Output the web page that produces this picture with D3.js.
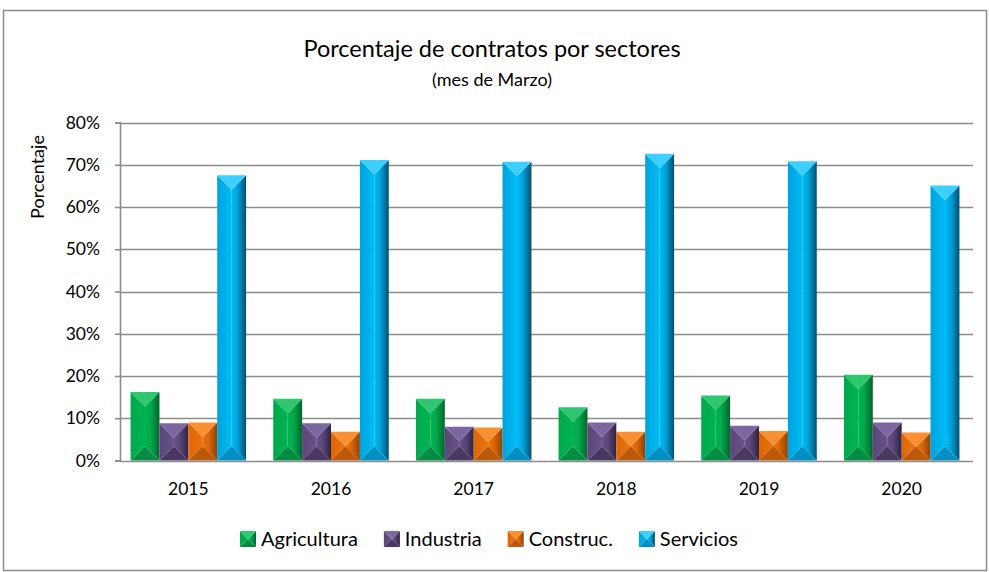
<!DOCTYPE html>
<html>
<head>
<meta charset="utf-8">
<title>Porcentaje de contratos por sectores</title>
<style>
  body { margin: 0; background: #ffffff; }
  text { font-family: Lato, "Open Sans", sans-serif; fill: #000; }
</style>
<script src="https://d3js.org/d3.v7.min.js"></script>
</head>
<body>
<div id="chart"></div>
<script>
// data (fractions)
var years = ["2015", "2016", "2017", "2018", "2019", "2020"];
var series = ["Agricultura", "Industria", "Construc.", "Servicios"];
var agricultura = [0.162, 0.146, 0.146, 0.126, 0.154, 0.203];
var industria   = [0.088, 0.088, 0.080, 0.090, 0.082, 0.090];
var construc    = [0.090, 0.068, 0.078, 0.068, 0.070, 0.066];
var servicios   = [0.675, 0.711, 0.707, 0.726, 0.708, 0.651];
var yTicks = [0, 0.1, 0.2, 0.3, 0.4, 0.5, 0.6, 0.7, 0.8];

// colours per series: light (top), left, centre, right edge, bottom
var shades = [
  {top: "#2ec66e", left: "#00a84c", mid: "#00b452", right: "#00642e", bot: "#008c42"},
  {top: "#7c68a0", left: "#5b4679", mid: "#675187", right: "#2f2342", bot: "#4a3862"},
  {top: "#fb9033", left: "#dc6608", mid: "#ec740e", right: "#8c4204", bot: "#bc5908"},
  {top: "#3ccfff", left: "#00a2dc", mid: "#00bdf6", right: "#00506f", bot: "#008fc2"}
];

var values = [agricultura, industria, construc, servicios];
var data = years.map(function(y, i) {
  return {year: y, vals: series.map(function(s, j) { return {key: s, idx: j, v: values[j][i]}; })};
});

var W = 989, H = 572;
var plot = {left: 117, right: 973, top: 122.5, bottom: 460.5};

var svg = d3.select("#chart").append("svg")
  .attr("width", W).attr("height", H);

// chart border
svg.append("rect")
  .attr("x", 3.5).attr("y", 10.5)
  .attr("width", W - 6).attr("height", H - 12)
  .attr("fill", "#fff").attr("stroke", "#8c8c8c").attr("stroke-width", 1.5);

// gradients for the left and right bevel faces
var defs = svg.append("defs");
shades.forEach(function(c, j) {
  var gl = defs.append("linearGradient").attr("id", "gl" + j).attr("x1", 0).attr("x2", 1).attr("y1", 0).attr("y2", 0);
  gl.append("stop").attr("offset", 0).attr("stop-color", c.left);
  gl.append("stop").attr("offset", 1).attr("stop-color", c.mid);
  var gr = defs.append("linearGradient").attr("id", "gr" + j).attr("x1", 0).attr("x2", 1).attr("y1", 0).attr("y2", 0);
  gr.append("stop").attr("offset", 0).attr("stop-color", c.mid);
  gr.append("stop").attr("offset", 0.4).attr("stop-color", c.left);
  gr.append("stop").attr("offset", 1).attr("stop-color", c.right);
});

var x0 = d3.scaleBand().domain(years).range([plot.left, plot.right]).padding(0);
var x1 = d3.scaleBand().domain(series).range([0, x0.bandwidth()]).paddingInner(0).paddingOuter(0.47);
var y = d3.scaleLinear().domain([0, 0.8]).range([plot.bottom, plot.top]);

// gridlines
svg.append("g")
  .selectAll("line").data(yTicks.slice(1)).enter().append("line")
  .attr("x1", 120).attr("x2", plot.right)
  .attr("y1", function(d) { return Math.round(y(d)) + 0.5; })
  .attr("y2", function(d) { return Math.round(y(d)) + 0.5; })
  .attr("stroke", "#8c8c8c").attr("stroke-width", 1.6);

// y axis
var yAxis = svg.append("g")
  .attr("transform", "translate(120,0)")
  .call(d3.axisLeft(y).tickValues(yTicks).tickFormat(d3.format(".0%")).tickSize(5).tickPadding(15));
yAxis.select(".domain").attr("stroke", "#8c8c8c").attr("stroke-width", 1.6);
yAxis.selectAll(".tick line").attr("stroke", "#8c8c8c").attr("stroke-width", 1.6);
yAxis.selectAll(".tick text").attr("font-size", "17.5px").attr("font-family", "Lato, sans-serif").attr("fill", "#000");

// x axis
var xAxis = svg.append("g")
  .attr("transform", "translate(0," + (Math.round(plot.bottom) + 0.5) + ")")
  .call(d3.axisBottom(x0).tickSize(0).tickPadding(21));
xAxis.select(".domain").attr("d", "M120,0H" + plot.right).attr("stroke", "#8c8c8c").attr("stroke-width", 1.6);
xAxis.selectAll(".tick text").attr("font-size", "17.5px").attr("font-family", "Lato, sans-serif").attr("fill", "#000");

// bevelled bar: four faces meeting in the middle
function bevel(g, x, yy, w, h, j) {
  var c = shades[j];
  var d = Math.min(w, h) / 2;
  var pts = function(a) { return a.map(function(p) { return p.join(","); }).join(" "); };
  g.append("polygon").attr("points", pts([[x, yy], [x + d, yy + d], [x + d, yy + h - d], [x, yy + h]])).attr("fill", "url(#gl" + j + ")");
  g.append("polygon").attr("points", pts([[x + w - d, yy + d], [x + w, yy], [x + w, yy + h], [x + w - d, yy + h - d]])).attr("fill", "url(#gr" + j + ")");
  if (w - 2 * d > 0.5) {
    g.append("rect").attr("x", x + d).attr("y", yy + d).attr("width", w - 2 * d).attr("height", Math.max(0, h - 2 * d)).attr("fill", c.mid);
  }
  g.append("polygon").attr("points", pts([[x, yy], [x + w, yy], [x + w - d, yy + d], [x + d, yy + d]])).attr("fill", c.top);
  g.append("polygon").attr("points", pts([[x, yy + h], [x + d, yy + h - d], [x + w - d, yy + h - d], [x + w, yy + h]])).attr("fill", c.bot);
}

var groups = svg.append("g").selectAll("g").data(data).enter().append("g")
  .attr("transform", function(d) { return "translate(" + x0(d.year) + ",0)"; });

groups.each(function(d) {
  var g = d3.select(this);
  d.vals.forEach(function(b) {
    var bg = g.append("g");
    bevel(bg, x1(b.key), y(b.v), x1.bandwidth(), y(0) - y(b.v), b.idx);
  });
});

// titles
svg.append("text").attr("x", 492).attr("y", 57).attr("text-anchor", "middle")
  .attr("font-size", "23.5px").text("Porcentaje de contratos por sectores");
svg.append("text").attr("x", 492).attr("y", 86).attr("text-anchor", "middle")
  .attr("font-size", "18px").text("(mes de Marzo)");
svg.append("text")
  .attr("transform", "translate(44,177) rotate(-90)")
  .attr("text-anchor", "middle").attr("font-size", "18px").text("Porcentaje");

// legend
var legend = svg.append("g");
var lx = 0;
var items = [];
series.forEach(function(s, j) {
  var it = legend.append("g");
  bevel(it, 0, -8, 16, 16, j);
  var t = it.append("text").attr("x", 21).attr("y", 7).attr("font-size", "20px").text(s);
  items.push({g: it, w: 21 + t.node().getComputedTextLength()});
});
var total = d3.sum(items, function(d) { return d.w; }) + 26 * (items.length - 1);
lx = 489 - total / 2;
items.forEach(function(d) {
  d.g.attr("transform", "translate(" + lx + ",539)");
  lx += d.w + 26;
});
</script>
</body>
</html>
